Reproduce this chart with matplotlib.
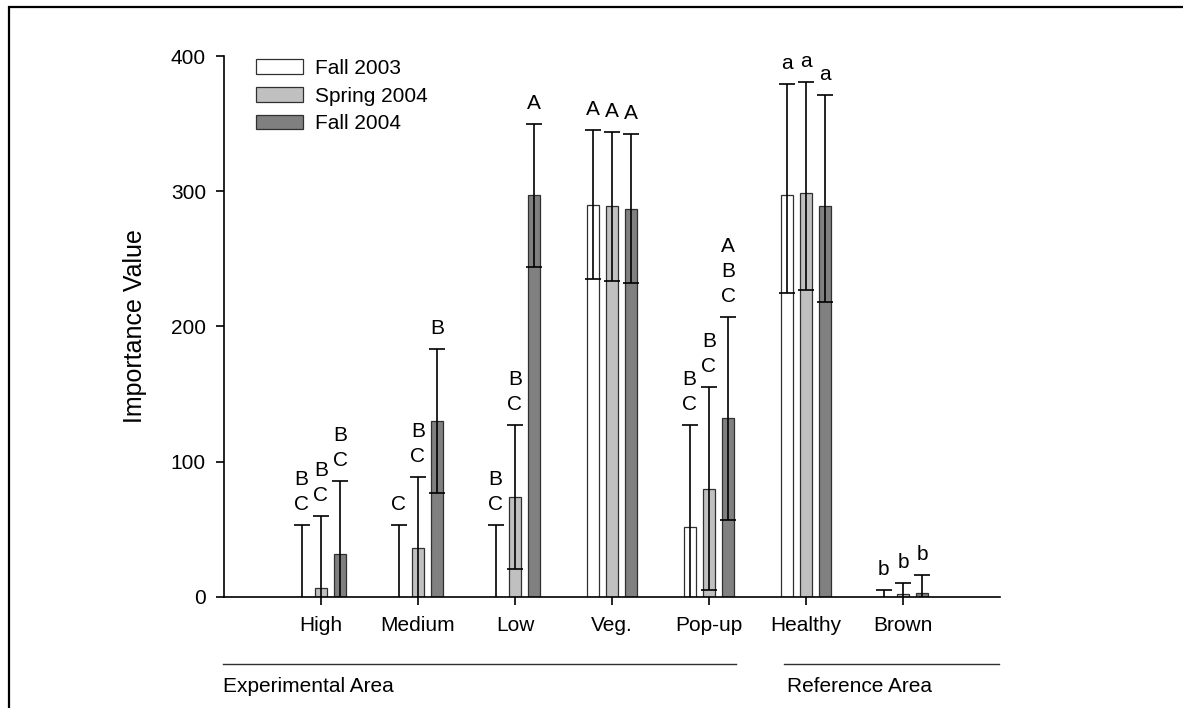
import matplotlib.pyplot as plt
import numpy as np
from matplotlib.patches import Rectangle

plt.rcParams['font.family'] = ['Liberation Sans', 'DejaVu Sans']

categories = ['High', 'Medium', 'Low', 'Veg.', 'Pop-up', 'Healthy', 'Brown']
series = ['Fall 2003', 'Spring 2004', 'Fall 2004']

fall03 = [0, 0, 0, 290, 52, 297, 0]
spring04 = [7, 36, 74, 289, 80, 299, 2]
fall04 = [32, 130, 297, 287, 132, 289, 3]

# errors (lower, upper)
fall03_lo = [53, 53, 53, 55, 75, 72, 5]
fall03_up = [53, 53, 53, 55, 75, 82, 5]
spring04_lo = [53, 53, 53, 55, 75, 72, 8]
spring04_up = [53, 53, 53, 55, 75, 82, 8]
fall04_lo = [54, 53, 53, 55, 75, 71, 13]
fall04_up = [54, 53, 53, 55, 75, 82, 13]

fall03_letters = ['B\nC', 'C', 'B\nC', 'A', 'B\nC', 'a', 'b']
spring04_letters = ['B\nC', 'B\nC', 'B\nC', 'A', 'B\nC', 'a', 'b']
fall04_letters = ['B\nC', 'B', 'A', 'A', 'A\nB\nC', 'a', 'b']

colors = ['white', '#c0c0c0', '#808080']

fig = plt.figure(figsize=(11.83, 7.08), dpi=100)
ax = fig.add_axes([0.1893, 0.1568, 0.656, 0.7641])

x = np.arange(1, len(categories) + 1)
width = 0.125
offsets = [-0.2, 0.0, 0.2]
vals = [fall03, spring04, fall04]
los = [fall03_lo, spring04_lo, fall04_lo]
ups = [fall03_up, spring04_up, fall04_up]
letters = [fall03_letters, spring04_letters, fall04_letters]

for i in range(3):
    xi = x + offsets[i]
    ax.bar(xi, vals[i], width, color=colors[i], edgecolor='#303030',
           linewidth=0.9, label=series[i], zorder=2)
    ax.errorbar(xi, vals[i], yerr=[los[i], ups[i]], fmt='none', ecolor='black',
                elinewidth=1.2, capsize=6, capthick=1.2, zorder=3)
    for xx, v, u, t in zip(xi, vals[i], ups[i], letters[i]):
        ax.annotate(t, (xx, v + u), xytext=(0, 8), textcoords='offset points',
                    ha='center', va='bottom', fontsize=15, linespacing=1.4)

ax.set_xlim(0, 8)
ax.set_ylim(0, 400)
ax.set_yticks([0, 100, 200, 300, 400])
ax.set_xticks(x)
ax.set_xticklabels(categories)
ax.tick_params(axis='both', labelsize=15, direction='out', length=6, width=1.2)
ax.tick_params(axis='x', pad=8)
ax.tick_params(axis='y', pad=7)
ax.spines['top'].set_visible(False)
ax.spines['right'].set_visible(False)
ax.spines['left'].set_linewidth(1.2)
ax.spines['bottom'].set_linewidth(1.2)
ax.set_ylabel('Importance Value', fontsize=18, labelpad=17)

leg = ax.legend(loc='upper left', bbox_to_anchor=(0.03, 1.01), frameon=False,
                fontsize=15, handlelength=2.3, handleheight=0.7,
                handletextpad=0.55, labelspacing=0.42, borderaxespad=0)

# group labels below axis
tr = ax.get_xaxis_transform()
ax.plot([-0.01, 5.28], [-0.124, -0.124], color='#303030', lw=1.0,
        transform=tr, clip_on=False)
ax.plot([5.77, 7.99], [-0.124, -0.124], color='#303030', lw=1.0,
        transform=tr, clip_on=False)
ax.text(-0.01, -0.165, 'Experimental Area', transform=tr, fontsize=15,
        ha='left', va='center')
ax.text(5.80, -0.165, 'Reference Area', transform=tr, fontsize=15,
        ha='left', va='center')

fig.add_artist(Rectangle((0.008, -0.1), 1.2, 1.0908, transform=fig.transFigure,
                         fill=False, edgecolor='black', linewidth=1.6,
                         clip_on=False))

fig.savefig('out.png', dpi=100)
